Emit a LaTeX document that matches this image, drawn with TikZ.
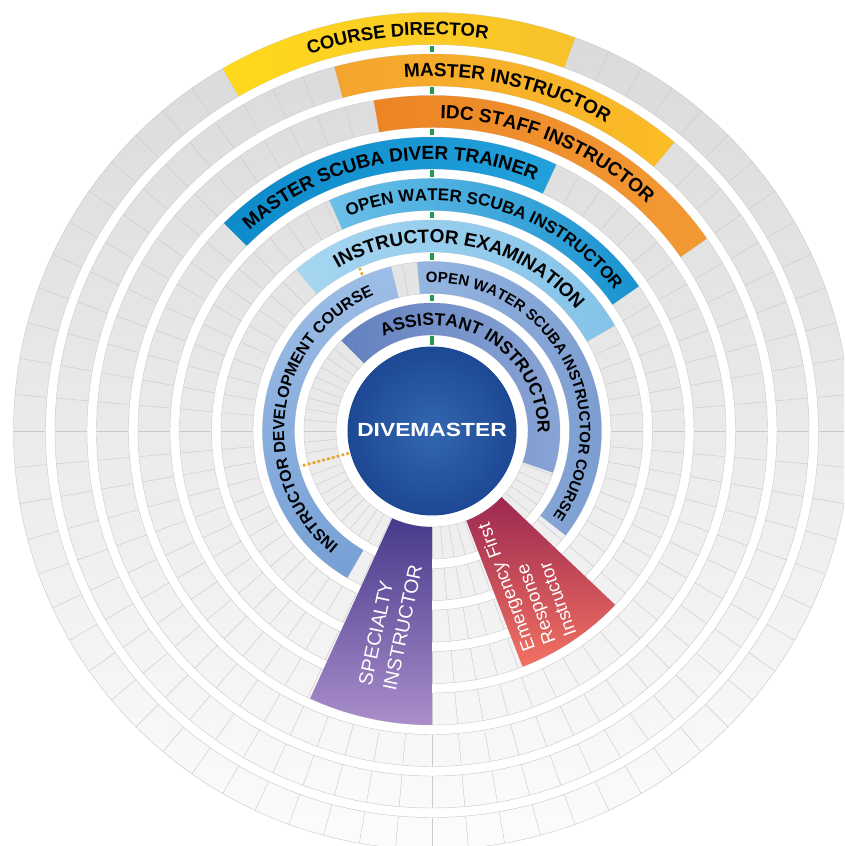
\documentclass[tikz,border=0pt]{standalone}
\usepackage{fontspec}
\setmainfont{Liberation Sans}
\usetikzlibrary{decorations.text}

\definecolor{gridgrey}{HTML}{CBCBCB}
\definecolor{gtop}{HTML}{D9D9D9}
\definecolor{gmid}{HTML}{EEEEEE}
\definecolor{gbot}{HTML}{FCFCFC}
\definecolor{cdL}{HTML}{FFD91C}\definecolor{cdR}{HTML}{F8C12B}
\definecolor{miL}{HTML}{F4A42E}\definecolor{miR}{HTML}{FBBD26}
\definecolor{isL}{HTML}{EC8425}\definecolor{isR}{HTML}{F39A33}
\definecolor{msL}{HTML}{0D8ACA}\definecolor{msR}{HTML}{22A1DB}
\definecolor{owL}{HTML}{6CC0E9}\definecolor{owR}{HTML}{1893D0}
\definecolor{ieL}{HTML}{A6D6F1}\definecolor{ieR}{HTML}{84C3E8}
\definecolor{idT}{HTML}{9DBEE6}\definecolor{idB}{HTML}{76A0D5}
\definecolor{ocL}{HTML}{94B6E0}\definecolor{ocR}{HTML}{7C9DD0}
\definecolor{aiL}{HTML}{6381BF}\definecolor{aiR}{HTML}{8AA5D6}
\definecolor{dmIn}{HTML}{3467B1}\definecolor{dmOut}{HTML}{1D4893}
\definecolor{spT}{HTML}{47398B}\definecolor{spB}{HTML}{AA8ECA}
\definecolor{efT}{HTML}{9C2850}\definecolor{efM}{HTML}{DE2530}\definecolor{efB}{HTML}{F27262}
\definecolor{dashgreen}{HTML}{1E9B4B}
\definecolor{dotorange}{HTML}{E9A426}

\newcommand\secpath[4]{(#1:#3) arc[start angle=#1,end angle=#2,radius=#3] -- (#2:#4) arc[start angle=#2,end angle=#1,radius=#4] -- cycle}

\begin{document}
\begin{tikzpicture}[x=1pt,y=1pt,
  gridline/.style={draw=gridgrey, line width=0.45pt},
  bandlabel/.style 2 args={decorate, decoration={text along path, text align=center, text={|\fontsize{#1}{#1}\selectfont\bfseries|#2}}},
  gapdash/.style={draw=dashgreen, line width=4.5pt},
  dotline/.style={draw=dotorange, line width=2.6pt, dash pattern=on 2.6pt off 2.4pt},
  whitelabel/.style={text=white, align=left, inner sep=0pt}
]
\useasboundingbox (-432,-415) rectangle (412,431);
\begin{scope}
\clip (-432,-415) rectangle (412,431);
% background grid disk
\shade[top color=gtop, middle color=gmid, bottom color=gbot] (0,0) circle (418.5);
\foreach \g in {132.75,174.25,215.75,257.25,298.75,340.25,381.75}{
  \draw[white, line width=9.5pt] (0,0) circle (\g);
}
\fill[white] (0,0) circle (96);
\foreach \ri in {96,137.5,179,220.5,262,303.5,345,386.5}{
  \pgfmathsetmacro\rout{\ri+32}
  \draw[gridline] (0,0) circle (\ri) (0,0) circle (\rout);
  \foreach \a in {0,5,...,355}{\draw[gridline] (\a:\ri) -- (\a:\rout);}
}

% coloured arcs
\shade[left color=cdL, right color=cdR] \secpath{70}{120}{386.5}{418.5};
\shade[left color=miL, right color=miR] \secpath{50}{105}{345}{377};
\shade[left color=isL, right color=isR] \secpath{35}{100}{303.5}{335.5};
\shade[left color=msL, right color=msR] \secpath{65}{135}{262}{294};
\shade[left color=owL, right color=owR] \secpath{35}{114}{220.5}{252.5};
\shade[left color=ieL, right color=ieR] \secpath{30}{130}{179}{211};
\shade[top color=idT, bottom color=idB] \secpath{104}{240}{137.5}{169.5};
\shade[left color=ocL, right color=ocR] \secpath{-38}{95}{137.5}{169.5};
\shade[left color=aiL, right color=aiR] \secpath{-19}{135}{96}{128};
\shade[top color=spT, bottom color=spB] \secpath{245.5}{270}{96}{294};
\shade[top color=efT, middle color=efM, bottom color=efB] \secpath{291}{316.5}{96}{252.5};

% centre
\shade[inner color=dmIn, outer color=dmOut] (0,0) circle (84.5);

% green dashes along the vertical
\foreach \ga/\gb in {86/94.5,129.5/136,171/177.5,212.5/219,254/260.5,295.5/302,337/343.5,378.5/385}{
  \draw[gapdash] (90:\ga) -- (90:\gb);
}
% orange dotted links
\draw[dotline] (114:171) -- (114:178);
\draw[dotline] (195:86) -- (195:136);

% band labels
\path[bandlabel={18.5}{COURSE DIRECTOR}] (120:396) arc[start angle=120,end angle=70,radius=396];
\path[bandlabel={19}{MASTER INSTRUCTOR}] (105:354.2) arc[start angle=105,end angle=50,radius=354.2];
\path[bandlabel={19}{IDC STAFF INSTRUCTOR}] (100:312.7) arc[start angle=100,end angle=35,radius=312.7];
\path[bandlabel={19}{MASTER SCUBA DIVER TRAINER}] (135:271.2) arc[start angle=135,end angle=65,radius=271.2];
\path[bandlabel={17}{OPEN WATER SCUBA INSTRUCTOR}] (114:230.4) arc[start angle=114,end angle=35,radius=230.4];
\path[bandlabel={19}{INSTRUCTOR EXAMINATION}] (130:188.2) arc[start angle=130,end angle=30,radius=188.2];
\path[bandlabel={16}{INSTRUCTOR DEVELOPMENT COURSE}] (240:147.8) arc[start angle=240,end angle=104,radius=147.8];
\path[bandlabel={15}{OPEN WATER SCUBA INSTRUCTOR COURSE}] (95:148.1) arc[start angle=95,end angle=-38,radius=148.1];
\path[bandlabel={17.5}{ASSISTANT INSTRUCTOR}] (135:105.7) arc[start angle=135,end angle=-19,radius=105.7];

% nodes
\node[text=white, inner sep=0pt, font=\fontsize{19}{19}\selectfont\bfseries] (divemaster) at (0,1) {\scalebox{1.2}[1]{DIVEMASTER}};
\node[whitelabel, rotate=78, font=\fontsize{19.5}{25}\selectfont] (specialty) at (-41.7,-194) {SPECIALTY\\INSTRUCTOR};
\node[whitelabel, rotate=110, font=\fontsize{18.5}{22}\selectfont] (efr) at (94.7,-149) {Emergency First\\Response\\Instructor};
\end{scope}
\end{tikzpicture}
\end{document}
